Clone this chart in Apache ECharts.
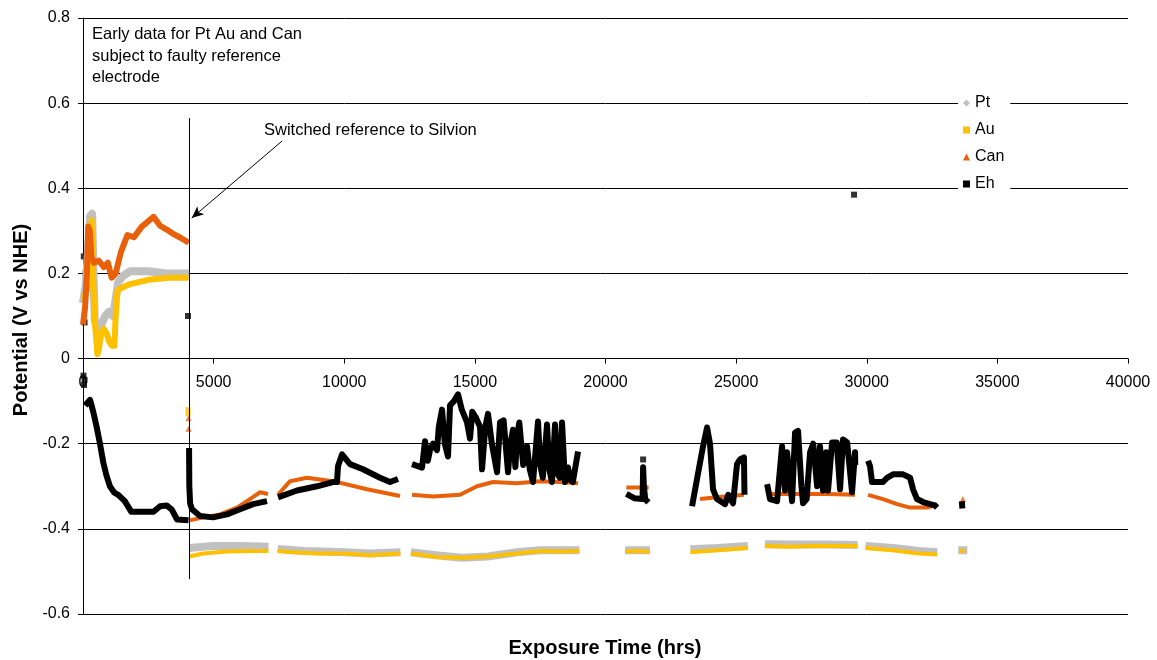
<!DOCTYPE html>
<html>
<head>
<meta charset="utf-8">
<script src="https://cdn.jsdelivr.net/npm/echarts@6/dist/echarts.min.js"></script>
<style>
  html, body { margin: 0; padding: 0; background: #fff; }
  #chart { width: 1157px; height: 660px; }
</style>
</head>
<body>
<div id="chart"></div>
<script>
// Electrode potentials against exposure time, [hours, volts vs NHE].
// Each series is a list of continuous runs; gaps between runs are left open.

const ptEarly = [[[0,0.13],[100,0.17],[200,0.26],[270,0.335],[350,0.34],[400,0.2],[450,0.09],[550,0.07],[700,0.08],[850,0.1],[1000,0.11],[1150,0.1],[1250,0.14],[1350,0.18],[1550,0.195],[1800,0.205],[2500,0.205],[3200,0.2],[4050,0.2]]];
const ptLate = [
  [[4060,-0.445],[5000,-0.44],[6000,-0.44],[7100,-0.442]],
  [[7450,-0.447],[8500,-0.452],[10000,-0.455],[11000,-0.458],[12150,-0.455]],
  [[12550,-0.455],[13500,-0.462],[14500,-0.468],[15500,-0.465],[16600,-0.455],[17500,-0.45],[18300,-0.45],[19000,-0.45]],
  [[20750,-0.45],[21700,-0.45]],
  [[23250,-0.448],[24300,-0.445],[25450,-0.44]],
  [[26100,-0.436],[27500,-0.437],[28500,-0.437],[29650,-0.438]],
  [[29950,-0.44],[31000,-0.445],[32000,-0.452],[32700,-0.455]],
  [[33500,-0.45],[33850,-0.45]]
];

const auEarly = [[[0,0.14],[150,0.16],[250,0.2],[330,0.325],[380,0.2],[450,0.09],[550,0.01],[600,0.02],[700,0.06],[800,0.07],[900,0.06],[1000,0.04],[1100,0.03],[1200,0.03],[1250,0.1],[1320,0.16],[1450,0.165],[1800,0.175],[2500,0.185],[3300,0.19],[4050,0.19]]];
const auLate = [
  [[4060,-0.465],[4600,-0.458],[5500,-0.453],[6500,-0.452],[7100,-0.452]],
  [[7450,-0.452],[8000,-0.455],[9000,-0.458],[10000,-0.458],[11000,-0.462],[12150,-0.458]],
  [[12550,-0.458],[13500,-0.466],[14500,-0.468],[15500,-0.465],[16600,-0.458],[17500,-0.452],[18300,-0.453],[19000,-0.452]],
  [[20750,-0.453],[21200,-0.452],[21700,-0.453]],
  [[23250,-0.455],[24300,-0.45],[25450,-0.445]],
  [[26100,-0.44],[27000,-0.442],[28000,-0.44],[29650,-0.44]],
  [[29950,-0.445],[31000,-0.45],[32000,-0.458],[32700,-0.46]],
  [[33550,-0.452],[33750,-0.452]]
];
const auPoints = [[4020,-0.12],[4020,-0.13]];

const canEarly = [[[0,0.08],[80,0.12],[150,0.2],[200,0.31],[260,0.3],[320,0.24],[420,0.225],[600,0.23],[800,0.215],[950,0.225],[1100,0.19],[1250,0.2],[1450,0.25],[1700,0.29],[1950,0.285],[2250,0.31],[2450,0.32],[2700,0.333],[2950,0.312],[3200,0.303],[3450,0.293],[3700,0.285],[4050,0.272]]];
const canLate = [
  [[4096,-0.38],[4594,-0.373],[5244,-0.366],[5895,-0.35],[6393,-0.33],[6776,-0.314],[7082,-0.318]],
  [[7465,-0.32],[7924,-0.288],[8575,-0.28],[9570,-0.288],[10872,-0.307],[12135,-0.323]],
  [[12594,-0.32],[13398,-0.324],[14432,-0.32],[15082,-0.3],[15695,-0.29],[16613,-0.293],[17494,-0.288],[18260,-0.29],[18949,-0.293]],
  [[20800,-0.303],[21650,-0.303]],
  [[23620,-0.33],[24269,-0.326],[25300,-0.32]],
  [[26299,-0.318],[27500,-0.318],[28500,-0.318],[29552,-0.32]],
  [[30050,-0.32],[30624,-0.33],[31160,-0.342],[31658,-0.35],[32308,-0.35],[32614,-0.345]]
];
const canPoints = [[4040,-0.14],[4040,-0.165],[33680,-0.33]];

const ehRuns = [
  [[80,-0.11],[270,-0.097],[400,-0.127],[520,-0.16],[650,-0.2],[780,-0.245],[900,-0.275],[1030,-0.3],[1200,-0.315],[1350,-0.32],[1600,-0.335],[1850,-0.36],[2300,-0.36],[2700,-0.36],[2950,-0.347],[3200,-0.345],[3400,-0.355],[3600,-0.378],[4040,-0.38]],
  [[4060,-0.21],[4070,-0.3],[4100,-0.34],[4173,-0.354],[4480,-0.37],[4976,-0.373],[5512,-0.366],[6010,-0.354],[6508,-0.342],[7044,-0.335]],
  [[7465,-0.326],[8192,-0.31],[8958,-0.3],[9570,-0.29],[9723,-0.29],[9760,-0.253],[9915,-0.225],[10221,-0.248],[10718,-0.26],[11369,-0.28],[11752,-0.29],[12058,-0.283]],
  [[12594,-0.248],[12977,-0.256],[13092,-0.194],[13200,-0.24],[13283,-0.215],[13398,-0.2],[13550,-0.215],[13620,-0.16],[13743,-0.12],[13850,-0.2],[13972,-0.23],[14049,-0.11],[14200,-0.1],[14355,-0.084],[14500,-0.12],[14700,-0.15],[14814,-0.188],[14900,-0.125],[15050,-0.14],[15197,-0.16],[15274,-0.26],[15400,-0.16],[15503,-0.13],[15650,-0.2],[15848,-0.267],[15963,-0.15],[16100,-0.145],[16269,-0.267],[16360,-0.2],[16460,-0.167],[16550,-0.255],[16620,-0.18],[16700,-0.15],[16850,-0.25],[16996,-0.206],[17100,-0.26],[17226,-0.29],[17417,-0.148],[17500,-0.25],[17600,-0.28],[17762,-0.155],[17850,-0.26],[17950,-0.29],[18068,-0.155],[18150,-0.27],[18250,-0.28],[18336,-0.15],[18450,-0.29],[18566,-0.256],[18650,-0.285],[18750,-0.29],[18949,-0.218]],
  [[20800,-0.318],[21100,-0.328],[21420,-0.33],[21440,-0.255],[21470,-0.3],[21520,-0.33],[21640,-0.338]],
  [[23313,-0.347],[23619,-0.244],[23734,-0.206],[23887,-0.162],[24000,-0.2],[24116,-0.307],[24269,-0.33],[24576,-0.342],[24700,-0.32],[24882,-0.34],[25035,-0.248],[25150,-0.237],[25300,-0.232],[25320,-0.32]],
  [[26184,-0.295],[26299,-0.33],[26567,-0.335],[26758,-0.206],[26873,-0.31],[26950,-0.22],[27141,-0.335],[27256,-0.174],[27370,-0.17],[27500,-0.3],[27562,-0.34],[27700,-0.33],[27830,-0.22],[27950,-0.2],[28100,-0.3],[28212,-0.206],[28327,-0.31],[28450,-0.22],[28519,-0.31],[28672,-0.197],[28850,-0.197],[28978,-0.307],[29093,-0.19],[29250,-0.197],[29437,-0.314],[29552,-0.22],[29560,-0.25]],
  [[30050,-0.24],[30126,-0.253],[30203,-0.29],[30450,-0.29],[30624,-0.29],[30777,-0.28],[31007,-0.272],[31390,-0.272],[31658,-0.28],[31772,-0.307],[31925,-0.33],[32155,-0.337],[32423,-0.342],[32614,-0.345],[32691,-0.35]],
  [[33640,-0.335],[33660,-0.352]]
];
const ehPoints = [[30,0.24],[100,0.2],[60,0.085],[4020,0.1],[20,-0.04],[60,-0.05],[40,-0.062],[21440,-0.237],[29514,0.385]];

const seriesColors = { Pt: '#c0c0c0', Au: '#ffc000', Can: '#e8600a', Eh: '#000000' };

// Annotation geometry in data units
const switchTime = 4060;
const switchLine = [[switchTime, 0.565], [switchTime, -0.518]];
const arrowLine = [[7618, 0.511], [4161, 0.33]];

// join runs with a null point so the line breaks between them
function joinRuns(runs) {
  const out = [];
  runs.forEach((run, i) => {
    if (i > 0) out.push([run[0][0], null]);
    run.forEach(p => out.push(p));
  });
  return out;
}

function lineSeries(name, runs, width) {
  return {
    name, type: 'line', data: joinRuns(runs), showSymbol: false, symbol: 'none',
    connectNulls: false, animation: false,
    itemStyle: { color: seriesColors[name] },
    lineStyle: { color: seriesColors[name], width, cap: 'butt', join: 'round' },
    emphasis: { disabled: true }
  };
}

function pointSeries(name, pts, symbol, size) {
  return {
    name, type: 'scatter', data: pts, symbol, symbolSize: size, animation: false,
    itemStyle: { color: seriesColors[name] }, emphasis: { disabled: true }
  };
}

const chart = echarts.init(document.getElementById('chart'));
const font = "'Liberation Sans', Arial, sans-serif";
const plotBottom = 614;
const zeroLine = 358.6;

chart.setOption({
  backgroundColor: '#fff',
  animation: false,
  textStyle: { fontFamily: font },
  grid: { left: 83, right: 29, top: 18, bottom: 660 - plotBottom },
  legend: {
    orient: 'vertical', left: 958, top: 92,
    padding: [3, 6, 3, 5], itemGap: 11, itemWidth: 7, itemHeight: 7,
    backgroundColor: '#fff',
    textStyle: { fontSize: 16, lineHeight: 16, color: '#000', fontFamily: font },
    data: [
      { name: 'Pt', icon: 'diamond' },
      { name: 'Au', icon: 'rect' },
      { name: 'Can', icon: 'triangle' },
      { name: 'Eh', icon: 'rect' }
    ]
  },
  xAxis: {
    type: 'value', min: 0, max: 40000, interval: 5000,
    // the time axis crosses the potential axis at 0 V
    offset: zeroLine - plotBottom,
    axisLine: { onZero: false, lineStyle: { color: '#000', width: 1 } },
    axisTick: { show: true, length: 5, lineStyle: { color: '#000' } },
    axisLabel: { fontSize: 16, color: '#000', margin: 16, fontFamily: font,
      formatter: v => String(v) },
    splitLine: { show: false }
  },
  yAxis: {
    type: 'value', min: -0.6, max: 0.8, interval: 0.2,
    axisLine: { show: true, lineStyle: { color: '#000', width: 1 } },
    axisTick: { show: true, length: 5, lineStyle: { color: '#000' } },
    axisLabel: { fontSize: 16, color: '#000', margin: 13, fontFamily: font,
      formatter: v => String(Math.round(v * 10) / 10) },
    splitLine: { show: true, lineStyle: { color: '#000', width: 1 } }
  },
  graphic: [
    { type: 'text', left: 92, top: 24, z: 100,
      style: { text: 'Early data for Pt Au and Can\nsubject to faulty reference\nelectrode',
        font: '16.5px ' + font, fill: '#000', lineHeight: 21.5 } },
    { type: 'text', left: 264, top: 122, z: 100,
      style: { text: 'Switched reference to Silvion', font: '16.5px ' + font, fill: '#000' } },
    { type: 'text', x: 21, y: 320, rotation: Math.PI / 2, z: 100,
      style: { text: 'Potential (V vs NHE)', font: 'bold 20px ' + font, fill: '#000',
        align: 'center', verticalAlign: 'middle' } },
    { type: 'text', x: 605, y: 648, z: 100,
      style: { text: 'Exposure Time (hrs)', font: 'bold 20px ' + font, fill: '#000',
        align: 'center', verticalAlign: 'middle' } }
  ],
  series: [
    lineSeries('Pt', ptEarly, 8),
    lineSeries('Pt', ptLate, 8),
    lineSeries('Au', auEarly, 6),
    lineSeries('Au', auLate, 4),
    pointSeries('Au', auPoints, 'rect', 5),
    lineSeries('Can', canEarly, 6),
    lineSeries('Can', canLate, 4),
    pointSeries('Can', canPoints, 'triangle', 6),
    lineSeries('Eh', ehRuns, 6),
    pointSeries('Eh', ehPoints, 'rect', 6),
    {
      type: 'line', data: [], silent: true, animation: false,
      markLine: {
        silent: true, animation: false, label: { show: false },
        lineStyle: { color: '#000', width: 1, type: 'solid' },
        data: [
          [{ coord: switchLine[0], symbol: 'none' }, { coord: switchLine[1], symbol: 'none' }],
          [{ coord: arrowLine[0], symbol: 'none' }, { coord: arrowLine[1], symbol: 'arrow', symbolSize: [8, 12] }]
        ]
      }
    }
  ]
});
</script>
</body>
</html>
